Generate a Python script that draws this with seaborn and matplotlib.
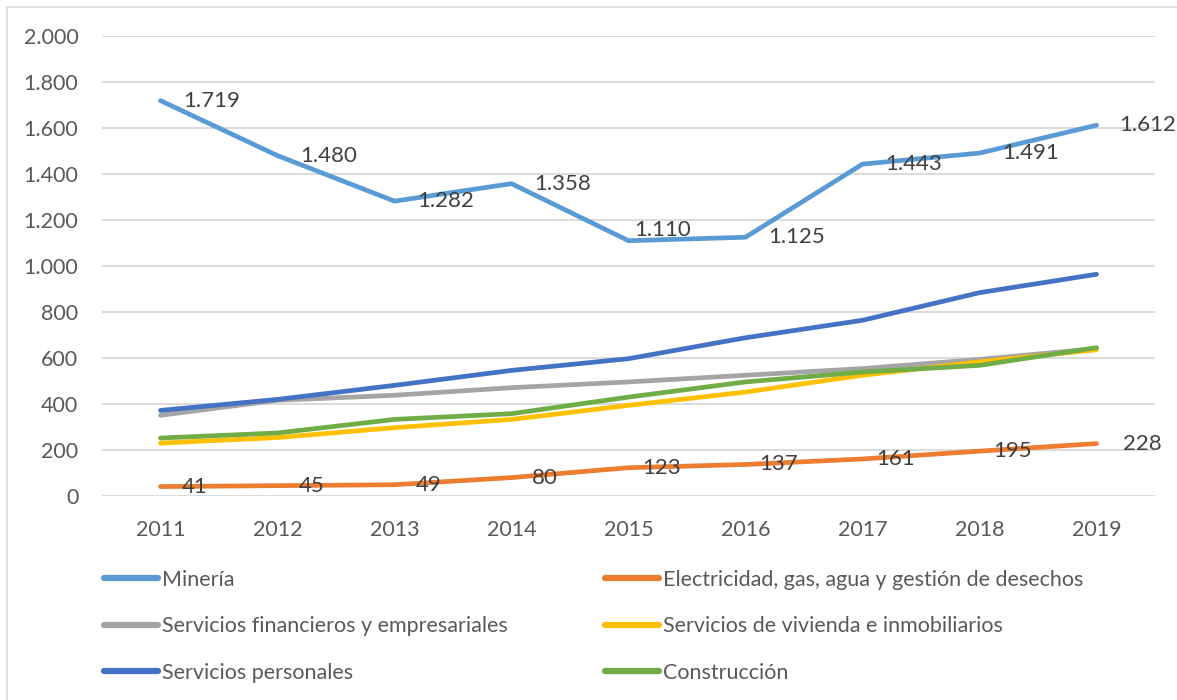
import matplotlib
matplotlib.use("Agg")
import matplotlib.pyplot as plt
import seaborn as sns
import pandas as pd
from matplotlib.patches import Rectangle

years = ["2011", "2012", "2013", "2014", "2015", "2016", "2017", "2018", "2019"]
series_names = [
    "Minería",
    "Electricidad, gas, agua y gestión de desechos",
    "Servicios financieros y empresariales",
    "Servicios de vivienda e inmobiliarios",
    "Servicios personales",
    "Construcción",
]
mineria = [1719, 1480, 1282, 1358, 1110, 1125, 1443, 1491, 1612]
electricidad = [41, 45, 49, 80, 123, 137, 161, 195, 228]
financieros = [351, 416, 438, 471, 496, 525, 554, 594, 641]
vivienda = [230, 254, 297, 333, 394, 452, 525, 583, 636]
personales = [372, 420, 481, 546, 597, 688, 764, 884, 964]
construccion = [252, 274, 333, 358, 430, 496, 539, 568, 645]

values = [mineria, electricidad, financieros, vivienda, personales, construccion]
colors = ["#5B9BD5", "#ED7D31", "#A5A5A5", "#FFC000", "#4472C4", "#70AD47"]
yticks = list(range(0, 2001, 200))

rows = []
for name, vals in zip(series_names, values):
    for i, (yr, v) in enumerate(zip(years, vals)):
        rows.append({"Año": i, "Serie": name, "Valor": v})
df = pd.DataFrame(rows)

sns.set_theme(style="white")
plt.rcParams["font.family"] = ["Lato", "DejaVu Sans"]

W, H = 1177, 700
fig = plt.figure(figsize=(W / 100, H / 100), dpi=100)
ax = fig.add_axes([102 / W, 1 - 496 / H, (1155 - 102) / W, (496 - 36) / H])

sns.lineplot(data=df, x="Año", y="Valor", hue="Serie", hue_order=series_names,
             palette=colors, linewidth=3.4, ax=ax, sort=False, legend=True)
for ln in ax.lines:
    ln.set_solid_capstyle("round")
    ln.set_solid_joinstyle("round")

txt_color = "#595959"
lab_color = "#404040"
fs = 15.5
lfs = 16

ax.set_xlim(-0.5, len(years) - 0.5)
ax.set_ylim(0, 2000)
ax.set_xticks(range(len(years)))
ax.set_xticklabels(years)
ax.set_yticks(yticks)
ax.set_yticklabels([f"{v:,}".replace(",", ".") for v in yticks])
ax.tick_params(axis="both", length=0, labelsize=fs, labelcolor=txt_color)
ax.tick_params(axis="x", pad=17)
ax.tick_params(axis="y", pad=17)
ax.set_xlabel("")
ax.set_ylabel("")
for s in ax.spines.values():
    s.set_visible(False)
ax.grid(axis="y", color="#D9D9D9", linewidth=1.3)
ax.set_axisbelow(True)

def fmt(v):
    return f"{v:,}".replace(",", ".")

# data labels (placed to the right of each point)
for i, v in enumerate(mineria):
    dx, dy = 16, 0
    if i == 4:
        dx, dy = 4, 8
    ax.annotate(fmt(v), (i, v), xytext=(dx, dy), textcoords="offset points",
                ha="left", va="center", fontsize=lfs, color=lab_color)
for i, v in enumerate(electricidad):
    dx = 15 if v < 100 else 10
    if i == len(electricidad) - 1:
        dx = 19
    ax.annotate(fmt(v), (i, v), xytext=(dx, 0), textcoords="offset points",
                ha="left", va="center", fontsize=lfs, color=lab_color)

handles, labels = ax.get_legend_handles_labels()
ax.get_legend().remove()
hmap = dict(zip(labels, handles))
order = [0, 2, 4, 1, 3, 5]
hs = [hmap[series_names[k]] for k in order]
ls = [series_names[k] for k in order]
for h in hs:
    h.set_linewidth(4.5)
    h.set_solid_capstyle("round")
leg = fig.legend(hs, ls, ncol=2, loc="upper left",
                 bbox_to_anchor=(104 / W, 1 - 570 / H), frameon=False,
                 fontsize=fs, handlelength=2.5, handletextpad=0.18,
                 columnspacing=4.55, labelspacing=1.22, borderpad=0, borderaxespad=0)
for t in leg.get_texts():
    t.set_color(txt_color)

fig.patches.append(Rectangle((7 / W, -0.05), 1.2, 693 / H + 0.05, transform=fig.transFigure,
                             fill=False, edgecolor="#D9D9D9", linewidth=1.2))

fig.savefig("out.png", dpi=100, facecolor="white")
